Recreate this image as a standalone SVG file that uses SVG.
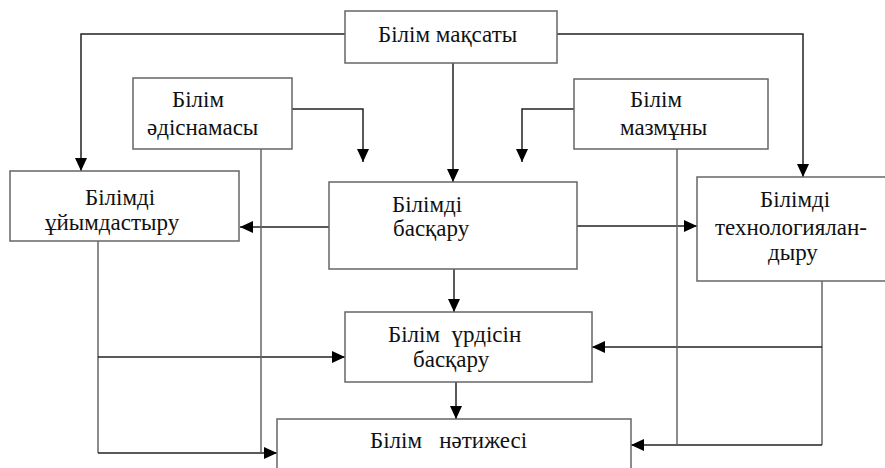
<svg xmlns="http://www.w3.org/2000/svg" width="885" height="468" viewBox="0 0 885 468" font-family="Liberation Serif" font-size="23">
<style>
.box{fill:#fff;stroke:#666;stroke-width:1.5}
.t{fill:#111}
.c{fill:none;stroke:#222;stroke-width:1.5}
.g{fill:none;stroke:#666;stroke-width:1.5}
.a{marker-end:url(#ah)}
</style>
<defs>
<marker id="ah" markerUnits="userSpaceOnUse" markerWidth="14" markerHeight="12" refX="13" refY="6" orient="auto">
<path d="M0,0 L13,6 L0,12 Z" fill="#000"/>
</marker>
</defs>
<rect width="885" height="468" fill="#fff"/>
<g id="connectors">
<path class="c a" d="M345,34 H81 V171"/>
<path class="c a" d="M557,34 H803 V177"/>
<path class="c a" d="M453,63 V182"/>
<path class="c a" d="M292,109 H363 V162"/>
<path class="c a" d="M574,109 H522 V162"/>
<path class="c a" d="M329,227 H240"/>
<path class="c a" d="M577,226 H697"/>
<path class="c a" d="M454,269 V312"/>
<path class="c a" d="M456,382 V419"/>
<path class="g" d="M98,241 V453"/>
<path class="c a" d="M98,357 H345"/>
<path class="c a" d="M98,453 H277"/>
<path class="g" d="M261,149 V453"/>
<path class="g" d="M822,281 V445"/>
<path class="c a" d="M822,347 H592"/>
<path class="c a" d="M822,445 H631"/>
<path class="g" d="M677,149 V445"/>
</g>
<g id="maksaty">
<rect class="box" x="345" y="11" width="212" height="52"/>
<text class="t" x="378" y="42">Білім мақсаты</text>
</g>
<g id="adisnamasy">
<rect class="box" x="133" y="78" width="159" height="71"/>
<text class="t" x="172" y="107">Білім</text>
<text class="t" x="147" y="135">әдіснамасы</text>
</g>
<g id="mazmuny">
<rect class="box" x="574" y="79" width="194" height="70"/>
<text class="t" x="630" y="107">Білім</text>
<text class="t" x="620" y="135">мазмұны</text>
</g>
<g id="uiymdastyru">
<rect class="box" x="10" y="171" width="229" height="70"/>
<text class="t" x="85" y="205">Білімді</text>
<text class="t" x="45" y="230">ұйымдастыру</text>
</g>
<g id="baskaru">
<rect class="box" x="329" y="182" width="248" height="87"/>
<text class="t" x="392" y="212">Білімді</text>
<text class="t" x="393" y="236">басқару</text>
</g>
<g id="tehnologiya">
<rect class="box" x="697" y="177" width="190" height="104"/>
<text class="t" x="760" y="207">Білімді</text>
<text class="t" x="715" y="235">технологиялан-</text>
<text class="t" x="768" y="260">дыру</text>
</g>
<g id="urdisin">
<rect class="box" x="345" y="312" width="247" height="70"/>
<text class="t" x="388" y="342" xml:space="preserve">Білім  үрдісін</text>
<text class="t" x="413" y="367">басқару</text>
</g>
<g id="natizhesi">
<rect class="box" x="277" y="419" width="354" height="60"/>
<text class="t" x="370" y="448" xml:space="preserve">Білім   нәтижесі</text>
</g>
</svg>
